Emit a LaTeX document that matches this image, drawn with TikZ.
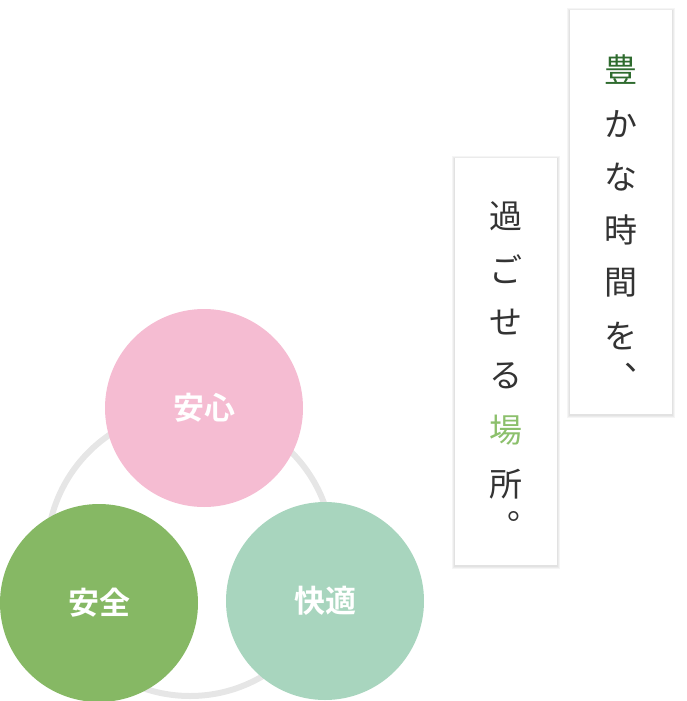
\documentclass[tikz,border=0pt]{standalone}
\usepackage{fontspec}
\newfontfamily\cjk{Noto Sans CJK JP}
\newfontfamily\cjkb{Noto Sans CJK JP Bold}
\definecolor{pinkc}{HTML}{F5BCD2}
\definecolor{greenc}{HTML}{86B864}
\definecolor{mintc}{HTML}{A8D5BE}
\definecolor{ringc}{HTML}{E6E6E6}
\definecolor{txt}{HTML}{333333}
\definecolor{dgreen}{HTML}{2E6B2E}
\definecolor{lgreen}{HTML}{8CC06C}
\begin{document}
\begin{tikzpicture}[x=1pt,y=-1pt,
  ball/.style={circle,minimum size=198pt,inner sep=0pt,font=\cjkb\fontsize{31}{31}\selectfont,text=white},
  sh1/.style={fill=black,opacity=0.04},
  ch/.style={font=\cjk\fontsize{33}{33}\selectfont,text=txt,inner sep=0pt}]
\useasboundingbox (0,0) rectangle (687,701);
\draw[ringc,line width=6pt] (190,553) circle (143);
\node[ball,fill=pinkc] (anshin) at (204,408) {安心};
\node[ball,fill=greenc] (anzen) at (99,603) {安全};
\node[ball,fill=mintc] (kaiteki) at (325,601) {快適};
\foreach \d in {1,2,3}{
  \fill[sh1] (570-\d,10-\d+1) rectangle (672+\d,414+\d+1);
  \fill[sh1] (455-\d,158-\d+1) rectangle (557+\d,565+\d+1);
}
\fill[white] (570,10) rectangle (672,414);
\fill[white] (455,158) rectangle (557,565);
\node[ch,text=dgreen] (a1) at (621,70) {豊};
\node[ch] (a2) at (621,124) {か};
\node[ch] (a3) at (621,177) {な};
\node[ch] (a4) at (621,230) {時};
\node[ch] (a5) at (621,283) {間};
\node[ch] (a6) at (621,336) {を};
\node[ch] (a7) at (641,368) {、};
\node[ch] (b1) at (506,216) {過};
\node[ch] (b2) at (506,269) {ご};
\node[ch] (b3) at (506,322) {せ};
\node[ch] (b4) at (506,376) {る};
\node[ch,text=lgreen] (b5) at (506,430) {場};
\node[ch] (b6) at (506,484) {所};
\node[ch] (b7) at (524,516) {。};
\end{tikzpicture}
\end{document}
